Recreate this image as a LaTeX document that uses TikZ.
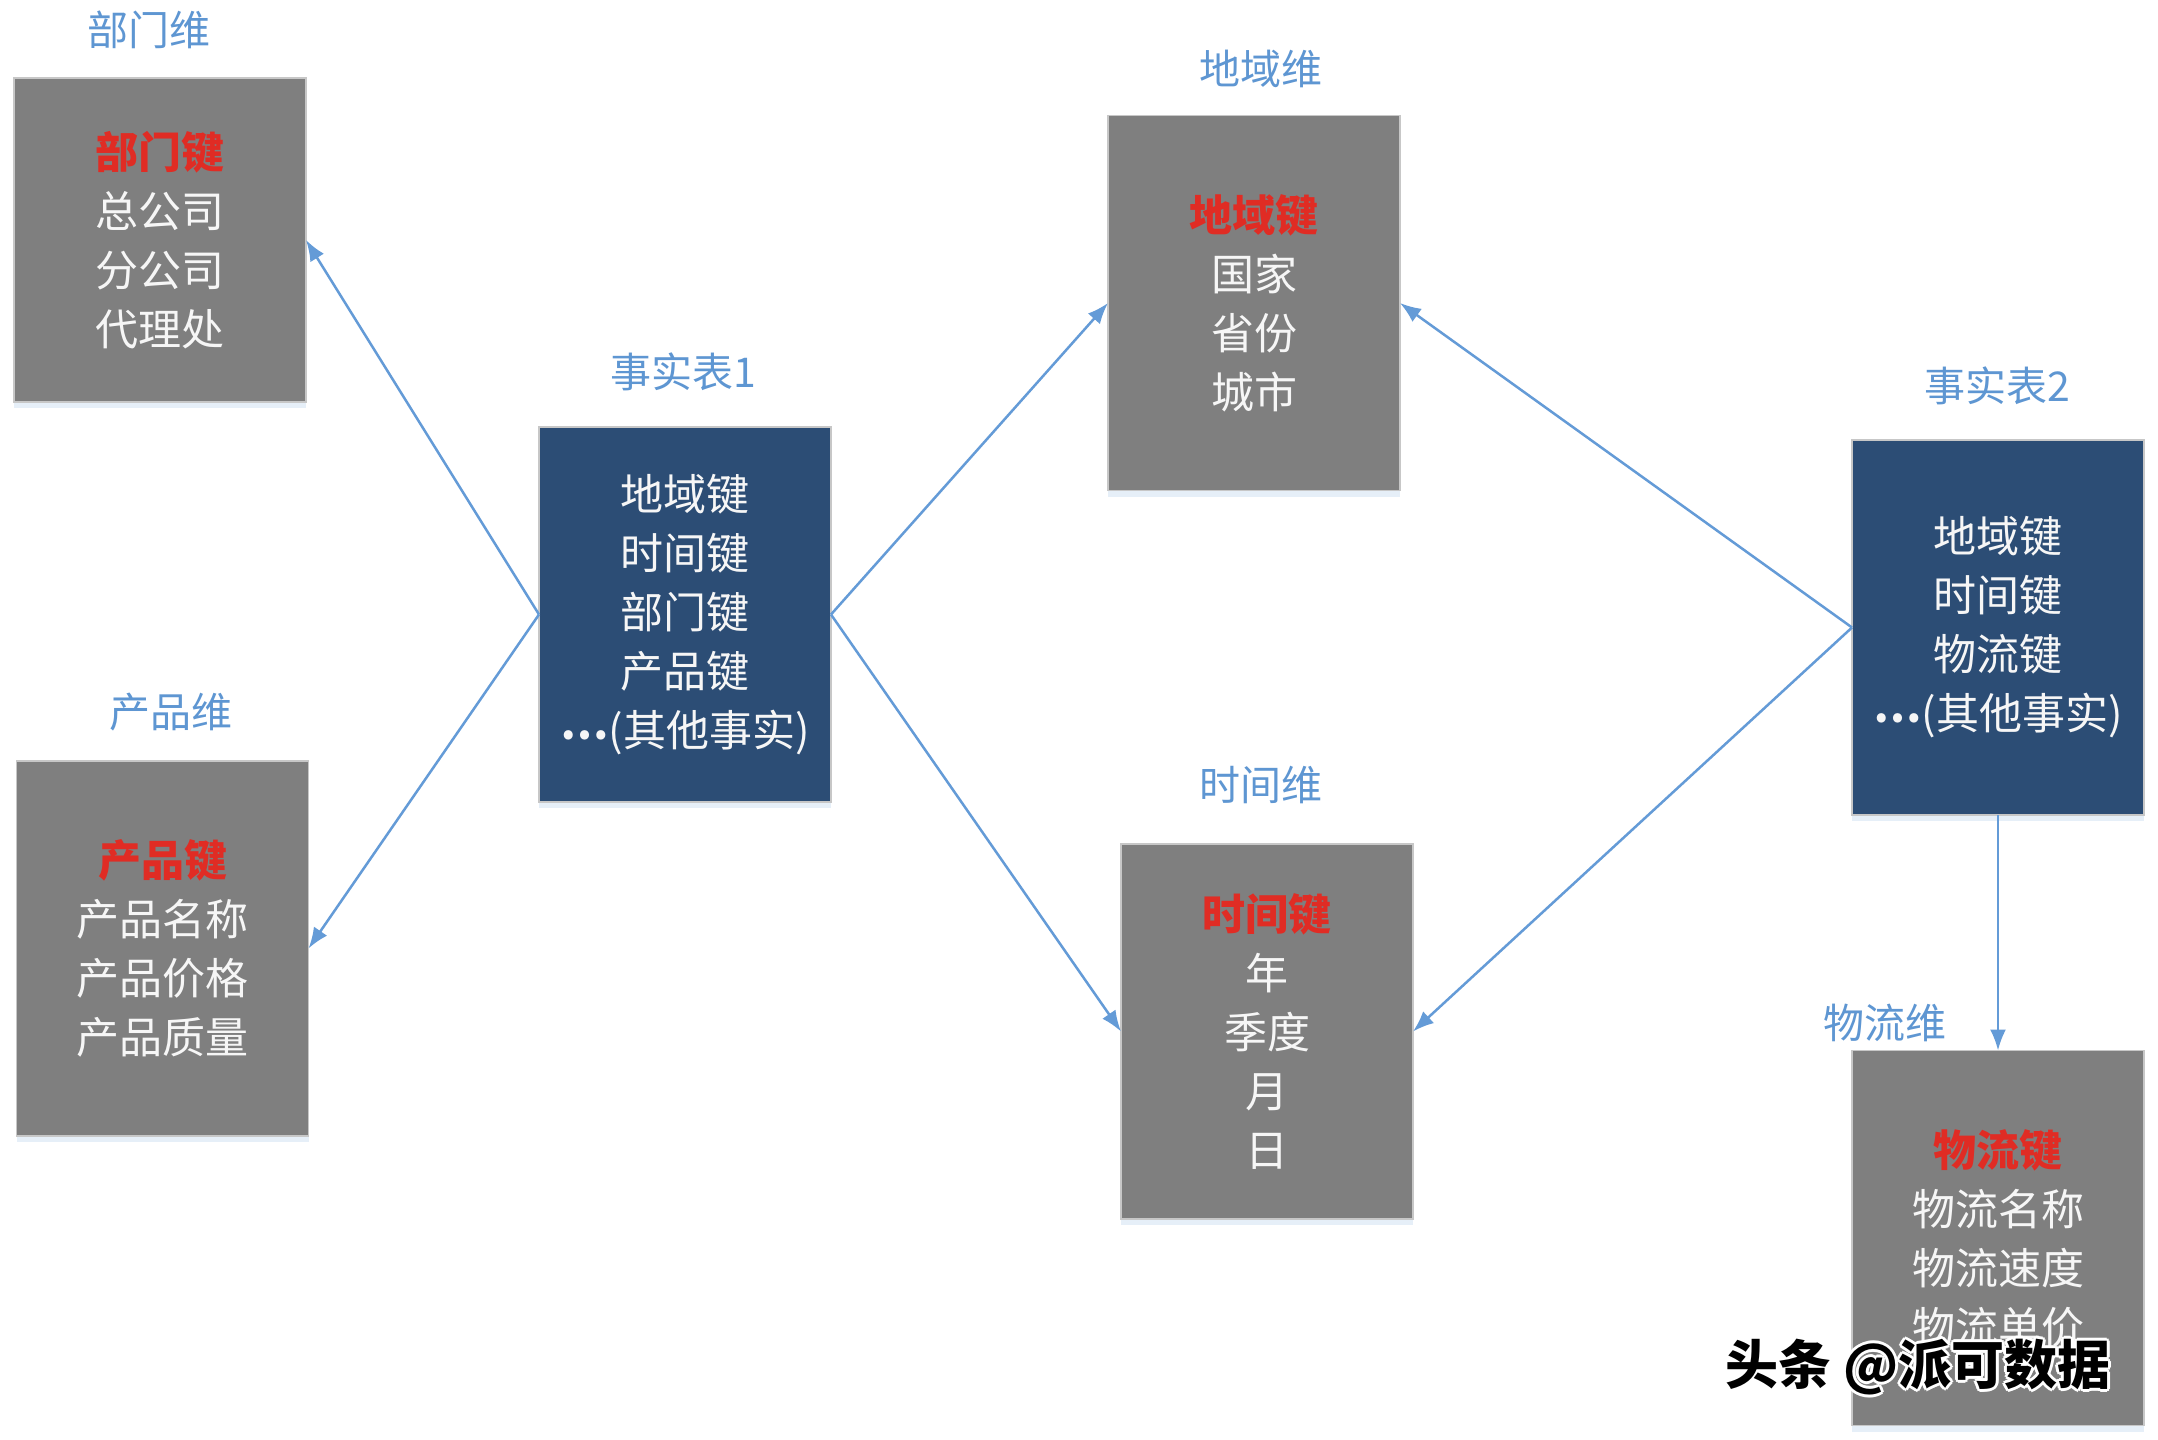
\documentclass[tikz,border=0pt]{standalone}
\usepackage{fontspec}
\setmainfont{Noto Sans CJK SC}
\usetikzlibrary{arrows.meta,shadows}
\definecolor{titleblue}{RGB}{94,150,210}
\definecolor{arrowblue}{RGB}{100,155,215}
\definecolor{navy}{RGB}{44,77,117}
\definecolor{boxgrey}{RGB}{127,127,127}
\definecolor{keyred}{RGB}{224,44,36}
\definecolor{offwhite}{RGB}{246,246,246}
\tikzset{
  box/.style={minimum width=292pt, minimum height=375pt, inner sep=0pt, outer sep=0pt,
    draw=black!22, line width=1.5pt, align=center, text=offwhite,
    font=\fontsize{43}{59}\selectfont,
    drop shadow={fill=arrowblue!45, opacity=0.35, shadow xshift=0pt, shadow yshift=-6pt}},
  dimbox/.style={box, fill=boxgrey},
  factbox/.style={box, fill=navy},
  title/.style={text=titleblue, font=\fontsize{41}{50}\selectfont, inner sep=0pt},
  link/.style={draw=arrowblue, line width=2.5pt, -{Latex[length=21pt,width=16pt]}},
  wm/.style={font=\fontsize{53}{60}\selectfont\bfseries, inner sep=0pt},
}
\newcommand{\keyline}[1]{\textcolor{keyred}{\bfseries #1}}
\newcommand{\cdotsx}{\raisebox{0.17em}{\bfseries ⋯}}
\begin{document}
\begin{tikzpicture}[x=1pt,y=-1pt]
\useasboundingbox[fill=white] (0,0) rectangle (2158,1440);
% boxes
\node[dimbox, minimum height=324pt] (dept) at (160,240) {\keyline{部门键}\\总公司\\分公司\\代理处};
\node[dimbox] (prod) at (162.5,948.5) {\keyline{产品键}\\产品名称\\产品价格\\产品质量};
\node[factbox] (f1) at (685,614.5) {地域键\\时间键\\部门键\\产品键\\\cdotsx(其他事实)};
\node[dimbox] (geo) at (1254,303) {\keyline{地域键}\\国家\\省份\\城市};
\node[dimbox] (time) at (1267,1031.5) {\keyline{时间键}\\年\\季度\\月\\日};
\node[factbox] (f2) at (1998,627.5) {地域键\\时间键\\物流键\\\cdotsx(其他事实)};
\node[dimbox] (log) at (1998,1238) {\keyline{物流键}\\物流名称\\物流速度\\物流单价};
% titles
\node[title] (tdept) at (149,30) {部门维};
\node[title] (tprod) at (171,712) {产品维};
\node[title] (tf1) at (683,372) {事实表1};
\node[title] (tgeo) at (1261,69) {地域维};
\node[title] (ttime) at (1261,785) {时间维};
\node[title] (tf2) at (1997,386) {事实表2};
\node[title] (tlog) at (1885,1023) {物流维};
% connectors
\draw[link] (f1.west) -- (dept.east);
\draw[link] (f1.west) -- (prod.east);
\draw[link] (f1.east) -- (geo.west);
\draw[link] (f1.east) -- (time.west);
\draw[link] (f2.west) -- (geo.east);
\draw[link] (f2.west) -- (time.east);
\draw[link] (f2.south) -- (log.north);
% watermark
\foreach \dx/\dy [count=\i] in {-3/0,3/0,0/-3,0/3,-2/-2,2/2,-2/2,2/-2}
  \node[wm, text=white] (wmo\i) at (1918+\dx,1367+\dy) {头条 @派可数据};
\node[wm, text=black] (wm) at (1918,1367) {头条 @派可数据};
\end{tikzpicture}
\end{document}
